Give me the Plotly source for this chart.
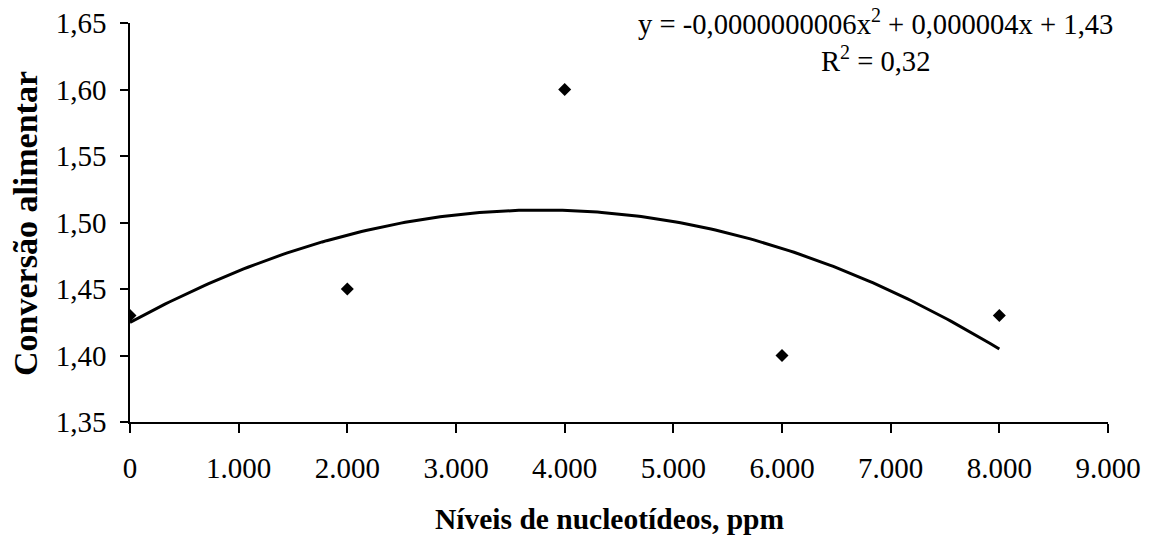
import numpy as np
import plotly.graph_objects as go

# Data
niveis = [0, 2000, 4000, 6000, 8000]
conversao = [1.43, 1.45, 1.60, 1.40, 1.43]

x_tickvals = [0, 1000, 2000, 3000, 4000, 5000, 6000, 7000, 8000, 9000]
x_ticktext = ["0", "1.000", "2.000", "3.000", "4.000", "5.000", "6.000", "7.000", "8.000", "9.000"]
y_tickvals = [1.35, 1.40, 1.45, 1.50, 1.55, 1.60, 1.65]
y_ticktext = ["1,35", "1,40", "1,45", "1,50", "1,55", "1,60", "1,65"]

# Quadratic trend line fitted to the data (as Excel's polynomial trendline)
coef = np.polyfit(niveis, conversao, 2)
xs = np.linspace(min(niveis), max(niveis), 200)
ys = np.polyval(coef, xs)

FONT = "Liberation Serif"
L, R, T, B = 130, 51, 23, 117
PW, PH = 1159 - L - R, 539 - T - B


def px(xp):
    return (xp - L) / PW


def py(yp):
    return (539 - B - yp) / PH


fig = go.Figure()
fig.add_trace(go.Scatter(x=xs, y=ys, mode="lines",
                         line=dict(color="black", width=3), hoverinfo="skip"))
fig.add_trace(go.Scatter(x=niveis, y=conversao, mode="markers",
                         marker=dict(symbol="diamond", size=10, color="black")))

fig.update_layout(
    template="none",
    width=1159, height=539,
    margin=dict(l=L, r=R, t=T, b=B, autoexpand=False),
    paper_bgcolor="white", plot_bgcolor="white",
    showlegend=False,
    font=dict(family=FONT, size=29, color="black"),
    xaxis=dict(range=[0, 9000], tickvals=x_tickvals, ticktext=x_ticktext,
               showgrid=False, zeroline=False, showline=True, linecolor="black",
               linewidth=1.5, ticks="outside", ticklen=9, tickwidth=1.5,
               tickcolor="black", ticklabelstandoff=10, automargin=False),
    yaxis=dict(range=[1.35, 1.65], tickvals=y_tickvals, ticktext=y_ticktext,
               showgrid=False, zeroline=False, showline=True, linecolor="black",
               linewidth=1.5, ticks="outside", ticklen=8, tickwidth=1.5,
               tickcolor="black", ticklabelstandoff=8, automargin=False),
    annotations=[
        dict(text="y = -0,0000000006x<sup>2</sup> + 0,000004x + 1,43<br>R<sup>2</sup> = 0,32",
             xref="paper", yref="paper", x=px(875), y=py(40),
             xanchor="center", yanchor="middle", showarrow=False, align="center",
             font=dict(family=FONT, size=28.6, color="black")),
        dict(text="<b>Níveis de nucleotídeos, ppm</b>", xref="paper", yref="paper",
             x=px(610), y=py(519), xanchor="center", yanchor="middle",
             showarrow=False, font=dict(family=FONT, size=29.5, color="black")),
        dict(text="<b>Conversão alimentar</b>", xref="paper", yref="paper",
             x=px(25), y=py(224), xanchor="center", yanchor="middle",
             textangle=-90, showarrow=False, font=dict(family=FONT, size=34, color="black")),
    ],
)

fig.write_html("out.html", config={"displayModeBar": False},
               post_script="document.body.style.margin='0';document.body.style.padding='0';")
